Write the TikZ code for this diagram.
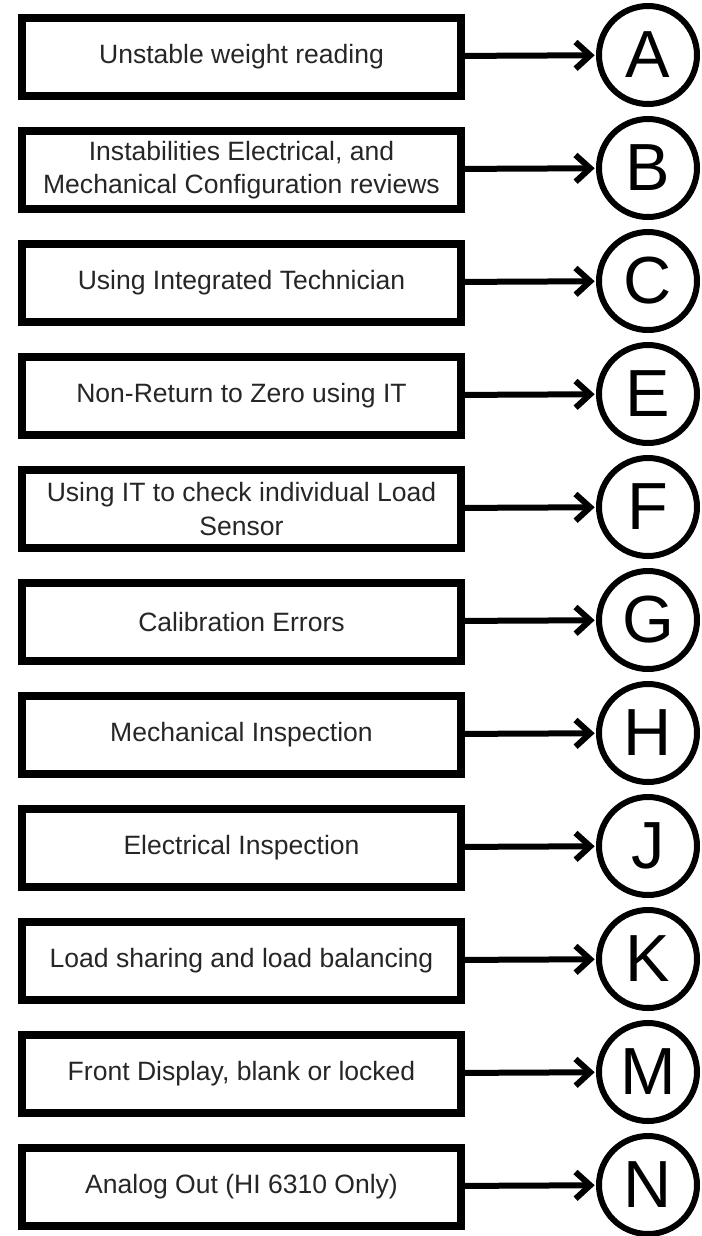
\documentclass[tikz,border=0pt]{standalone}
\usepackage{fontspec}
\setmainfont{Liberation Sans}
\usetikzlibrary{arrows.meta}

\begin{document}
\begin{tikzpicture}[x=0.75pt, y=-0.75pt,
  cause/.style={draw, line width=6pt, minimum width=329pt, minimum height=58pt, inner sep=0pt, align=center, text=black!85, font=\fontsize{19.9}{25}\selectfont},
  refcircle/.style={circle, draw, line width=4.5pt, minimum size=73.5pt, inner sep=0pt, text=black, font=\fontsize{50}{50}\selectfont},
  link/.style={line width=4.5pt, -{Straight Barb[length=11pt, width=20pt]}, shorten >=1pt}
]
\useasboundingbox[fill=white] (0,0) rectangle (701,1236);

% Problem boxes
\node[cause] (bA) at (241.5,57) {Unstable weight reading};
\node[cause] (bB) at (241.5,170) {Instabilities Electrical, and\\Mechanical Configuration reviews};
\node[cause] (bC) at (241.5,283) {Using Integrated Technician};
\node[cause] (bE) at (241.5,396) {Non-Return to Zero using IT};
\node[cause] (bF) at (241.5,509) {Using IT to check individual Load\\Sensor};
\node[cause] (bG) at (241.5,622) {Calibration Errors};
\node[cause] (bH) at (241.5,735) {Mechanical Inspection};
\node[cause] (bJ) at (241.5,848) {Electrical Inspection};
\node[cause] (bK) at (241.5,961) {Load sharing and load balancing};
\node[cause] (bM) at (241.5,1074) {Front Display, blank or locked};
\node[cause] (bN) at (241.5,1187) {Analog Out (HI 6310 Only)};

% Section letters
\node[refcircle] (cA) at (648,55) {A};
\node[refcircle] (cB) at (648,168) {B};
\node[refcircle] (cC) at (648,281) {C};
\node[refcircle] (cE) at (648,394) {E};
\node[refcircle] (cF) at (648,507) {F};
\node[refcircle] (cG) at (648,620) {G};
\node[refcircle] (cH) at (648,733) {H};
\node[refcircle] (cJ) at (648,846) {J};
\node[refcircle] (cK) at (648,959) {K};
\node[refcircle] (cM) at (648,1072) {M};
\node[refcircle] (cN) at (648,1185) {N};

% Arrows
\draw[link] (bA) -- (cA);
\draw[link] (bB) -- (cB);
\draw[link] (bC) -- (cC);
\draw[link] (bE) -- (cE);
\draw[link] (bF) -- (cF);
\draw[link] (bG) -- (cG);
\draw[link] (bH) -- (cH);
\draw[link] (bJ) -- (cJ);
\draw[link] (bK) -- (cK);
\draw[link] (bM) -- (cM);
\draw[link] (bN) -- (cN);
\end{tikzpicture}
\end{document}
